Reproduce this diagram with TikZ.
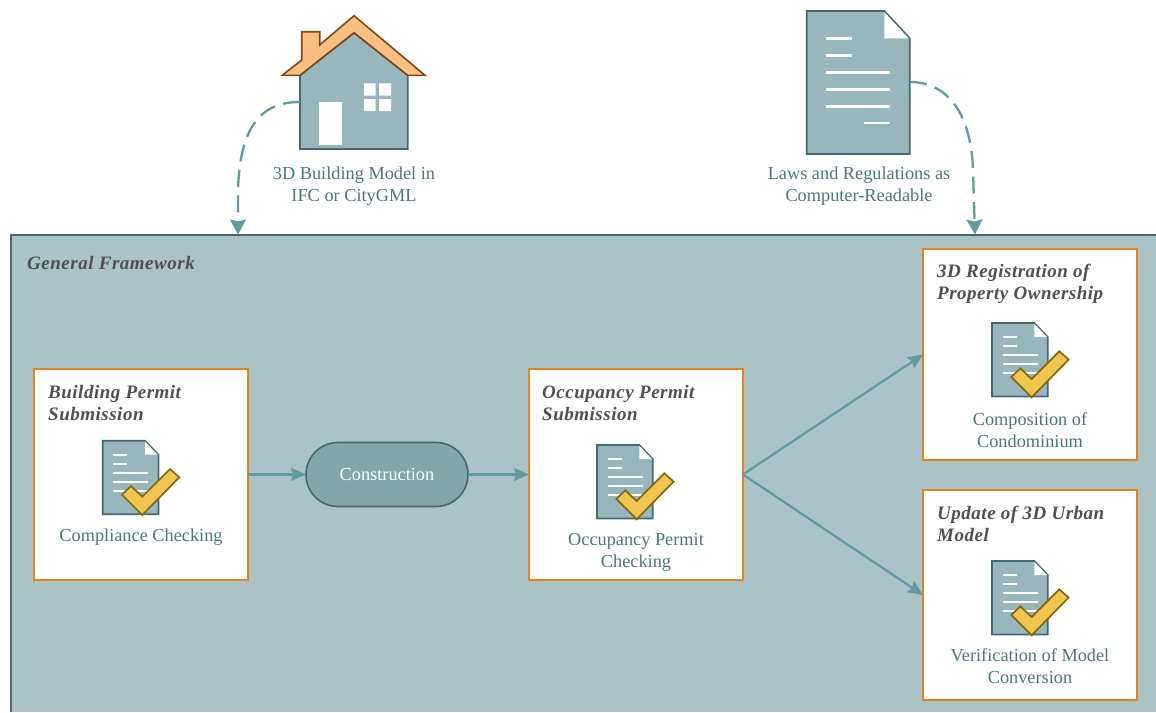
\documentclass[tikz,border=0pt]{standalone}
\usepackage{fontspec}
\setmainfont{Liberation Serif}
\usetikzlibrary{arrows.meta}
\definecolor{framefill}{HTML}{ABC3C7}
\definecolor{docfill}{HTML}{97B7BC}
\definecolor{edgedark}{HTML}{46696D}
\definecolor{orangeb}{HTML}{E5841F}
\definecolor{arrowc}{HTML}{5F9BA0}
\definecolor{consfill}{HTML}{81A7A9}
\definecolor{labelc}{HTML}{4A777C}
\definecolor{titlec}{HTML}{505050}
\definecolor{roofc}{HTML}{FBBF84}
\definecolor{roofe}{HTML}{7A4A14}
\definecolor{checkc}{HTML}{F0C552}
\definecolor{checke}{HTML}{856A0C}
\tikzset{
  x=1pt,y=-1pt,
  stepbox/.style={draw=orangeb,line width=2.6pt,fill=white,minimum width=214pt,inner sep=0pt,outer sep=0pt},
  boxtitle/.style={anchor=west,align=left,text=titlec,font=\fontsize{19}{22}\selectfont\bfseries\itshape\addfontfeatures{LetterSpace=2.7},inner sep=0pt},
  lab/.style={align=center,text=labelc,font=\fontsize{18.3}{22}\selectfont,inner sep=0pt},
  flow/.style={draw=arrowc,line width=2.2pt,-{Stealth[length=15pt,width=13pt,inset=2pt]}},
  dashflow/.style={draw=arrowc,line width=2.3pt,dash pattern=on 17pt off 8.5pt,-{Stealth[length=15pt,width=16pt,inset=2pt]}},
  docshape/.style={fill=docfill,draw=edgedark,line width=1.7pt,line join=miter},
  whiteline/.style={draw=white,line width=1.9pt},
  bigwhite/.style={draw=white,line width=2.8pt},
}
\newcommand{\docicon}[2]{%
\begin{scope}[shift={(#1,#2)}]
  \path[docshape] (0,0)--(42.3,0)--(55.7,14)--(55.7,73.5)--(0,73.5)--cycle;
  \fill[white] (42.3,0.8)--(42.3,14)--(55,14)--cycle;
  \draw[whiteline] (10.5,14.2)--(24.5,14.2) (10.5,23.2)--(24.5,23.2)
    (10.5,32.4)--(45.5,32.4) (10.5,41)--(45.5,41) (10.5,50)--(45.5,50);
  \path[fill=checkc,draw=checke,line width=1.7pt,line join=miter]
    (67.3,28.3)--(76.6,36.6)--(39.6,74.3)--(19.3,54)--(28.3,45.3)--(39.6,56)--cycle;
\end{scope}}
\begin{document}
\begin{tikzpicture}
\useasboundingbox (0,0) rectangle (1156,712);
% frame
\fill[framefill] (11,235) rectangle (1156,712);
\draw[edgedark,line width=1.8pt] (11,712)--(11,235)--(1156,235);
\node[boxtitle] (gf) at (27,263) {General Framework};
% house
\path[fill=docfill,draw=edgedark,line width=1.8pt,line join=miter] (300,75.3)--(354,32.7)--(407.7,75.3)--(407.7,149)--(300,149)--cycle;
\path[fill=roofc,draw=roofe,line width=1.6pt,line join=miter]
  (354,15.7)--(425,75.3)--(407.7,75.3)--(354,32.7)--(300,75.3)--(282.3,75.3)--(301.7,60)--(301.7,31.7)--(319.7,31.7)--(319.7,45)--cycle;
\fill[white] (319,102.3) rectangle (341.7,144.7);
\fill[white] (364,83.3) rectangle (375.7,95.7) (379,83.3) rectangle (391,95.7)
  (364,99) rectangle (375.7,111) (379,99) rectangle (391,111);
\coordinate (houseL) at (300,102);
\node[lab] (houselab) at (354,186.5) {3D Building Model in\\IFC or CityGML};
% law document
\path[docshape,line width=1.8pt] (806.7,11)--(884.3,11)--(909.7,38.3)--(909.7,154)--(806.7,154)--cycle;
\fill[white] (884.3,12)--(884.3,38.3)--(908.6,38.3)--cycle;
\draw[bigwhite] (826,38.3)--(851.7,38.3) (826,55.3)--(851.7,55.3)
  (826,72.7)--(890.3,72.7) (826,89.3)--(890.3,89.3) (826,106.3)--(890.3,106.3) (864.3,123)--(890.3,123);
\coordinate (docR) at (910,82);
\node[lab] (doclab) at (859,186.5) {Laws and Regulations as\\Computer-Readable};
% landing points on the frame
\coordinate (frameA) at (238,234.5);
\coordinate (frameB) at (975,234.5);
\draw[dashflow] (houseL) .. controls (262,102) and (240,125) .. (238,190) -- (frameA);
\draw[dashflow] (docR) .. controls (945,82) and (971,110) .. (973,170) -- (frameB);
% boxes
\node[stepbox,minimum height=211pt] (bp) at (141,474.5) {};
\node[stepbox,minimum height=211pt] (op) at (636,474.5) {};
\node[stepbox,minimum height=211pt] (reg) at (1030,354.5) {};
\node[stepbox,minimum height=210pt] (upd) at (1030,595) {};
\node[draw=edgedark,line width=1.6pt,fill=consfill,rounded corners=32pt,minimum width=162pt,minimum height=64pt,inner sep=0pt,outer sep=0pt,text=white,font=\fontsize{18.3}{22}\selectfont] (cons) at (387,474.5) {Construction};
\draw[flow] (bp.east) -- (cons.west);
\draw[flow] (cons.east) -- (op.west);
\draw[flow] (op.east) -- (reg.west);
\draw[flow] (op.east) -- (upd.west);
% box contents
\node[boxtitle] at (48,403) {Building Permit\\Submission};
\node[boxtitle] at (542,403) {Occupancy Permit\\Submission};
\node[boxtitle] at (937,284) {3D Registration of\\Property Ownership};
\node[boxtitle] at (937,523.5) {Update of 3D Urban\\Model};
\docicon{102.7}{440.7}
\docicon{597}{445}
\docicon{992}{323}
\docicon{992}{561}
\node[lab] at (141,537.5) {Compliance Checking};
\node[lab] at (636,552.5) {Occupancy Permit\\Checking};
\node[lab] at (1030,430) {Composition of\\Condominium};
\node[lab] at (1030,666) {Verification of Model\\Conversion};
\end{tikzpicture}
\end{document}
